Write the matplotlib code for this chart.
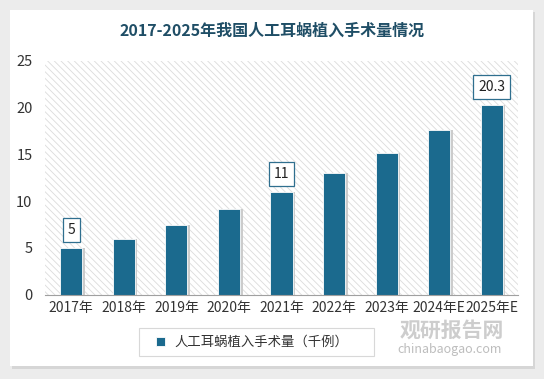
import matplotlib
matplotlib.use("Agg")
import matplotlib.pyplot as plt
from matplotlib.patches import Rectangle

plt.rcParams['font.family'] = ['Noto Sans CJK SC', 'DejaVu Sans']
plt.rcParams['hatch.linewidth'] = 0.6

categories = ["2017年", "2018年", "2019年", "2020年", "2021年", "2022年", "2023年", "2024年E", "2025年E"]
values = [5, 5.9, 7.4, 9.2, 11, 13, 15.2, 17.6, 20.3]
labeled = {0: "5", 4: "11", 8: "20.3"}
yticks = [0, 5, 10, 15, 20, 25]
title = "2017-2025年我国人工耳蜗植入手术量情况"
legend_label = "人工耳蜗植入手术量（千例）"

W, H = 544, 379
fig = plt.figure(figsize=(W / 100, H / 100), dpi=100, facecolor="#ececec")

# white panel with soft shadow
fig.patches.append(Rectangle((12 / W, 1 - 369 / H), 523 / W, 357 / H, transform=fig.transFigure,
                             facecolor="#d6d6d6", edgecolor="none", zorder=-3))
fig.patches.append(Rectangle((10 / W, 1 - 366 / H), 523 / W, 356 / H, transform=fig.transFigure,
                             facecolor="white", edgecolor="none", zorder=-2))
# legend frame
fig.patches.append(Rectangle((139 / W, 1 - 356 / H), 235 / W, 28 / H, transform=fig.transFigure,
                             facecolor="white", edgecolor="#d8d8d8", linewidth=0.8, zorder=-1))

ax = fig.add_axes([45 / W, 1 - 294.5 / H, 473 / W, (294.5 - 61) / H])
ax.set_zorder(1)
ax.set_facecolor("white")
ax.add_patch(Rectangle((0, 0), 1, 1, transform=ax.transAxes, facecolor="white",
                       edgecolor="#dcdcdc", hatch="\\\\\\\\\\", linewidth=0, zorder=0))

x = list(range(len(categories)))
# shadow
ax.bar([i + 0.05 for i in x], values, width=0.42, color="#cccccc", zorder=2)
ax.bar(x, values, width=0.42, color="#1b6a8e", edgecolor="white", linewidth=0.6, zorder=3,
       label=legend_label)

for i, txt in labeled.items():
    ax.annotate(txt, (i, values[i]), xytext=(0, 13), textcoords="offset points",
                ha="center", va="center", fontsize=10, color="#222222", zorder=5,
                bbox=dict(boxstyle="square,pad=0.35", facecolor="white", edgecolor="#2f6f8f", linewidth=0.9))

ax.set_xlim(-0.5, len(categories) - 0.5)
ax.set_ylim(0, 25)
ax.set_yticks(yticks)
ax.set_xticks(x)
ax.set_xticklabels(categories, fontsize=10, color="#333333")
ax.tick_params(axis="y", labelsize=10.5, colors="#333333", length=0, pad=9)
ax.tick_params(axis="x", length=0, pad=5)
for s in ["top", "right", "left"]:
    ax.spines[s].set_visible(False)
ax.spines["bottom"].set_color("#a0a0a0")
ax.spines["bottom"].set_linewidth(0.8)
ax.spines["bottom"].set_zorder(4)

fig.text(0.5, 1 - 31 / H, title, ha="center", va="center", fontsize=11.5, fontweight="bold",
         color="#1f4e66")

leg = fig.legend(loc="center", bbox_to_anchor=(252 / W, 1 - 342 / H), fontsize=9.6,
                 frameon=False, handlelength=0.7, handleheight=0.7, borderpad=0.3,
                 handletextpad=0.7, borderaxespad=0)
for t in leg.get_texts():
    t.set_color("#333333")

# watermark
fig.text(452 / W, 1 - 330 / H, "观研报告网", ha="center", va="center", fontsize=15,
         fontweight="bold", color="#c8c8c8", alpha=0.9, zorder=6)
fig.text(450 / W, 1 - 349 / H, "chinabaogao.com", ha="center", va="center", fontsize=9,
         color="#bdbdbd", zorder=6)

fig.savefig("out.png", dpi=100, facecolor=fig.get_facecolor())
